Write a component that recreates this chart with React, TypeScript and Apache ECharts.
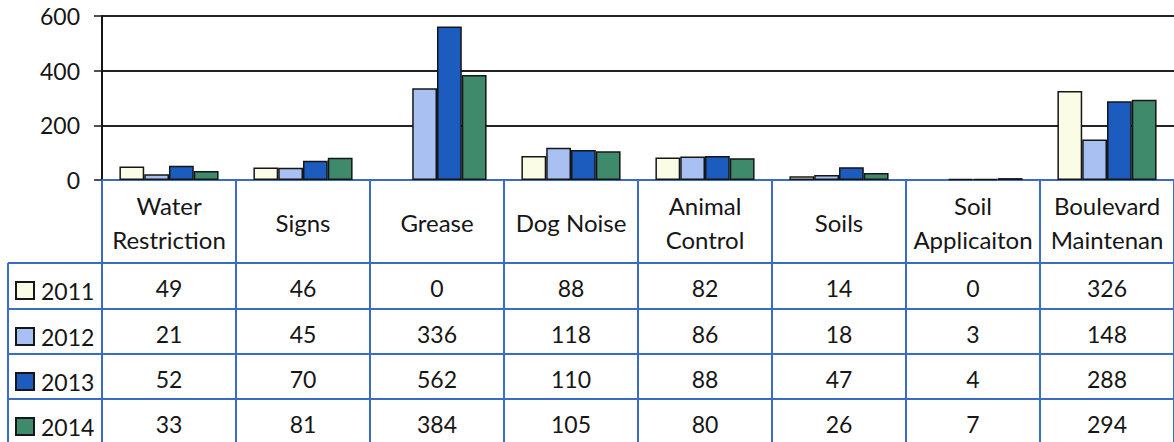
import React, { useEffect, useRef } from "react";
import * as echarts from "echarts";

const categories = [
  "Water\nRestriction",
  "Signs",
  "Grease",
  "Dog Noise",
  "Animal\nControl",
  "Soils",
  "Soil\nApplicaiton",
  "Boulevard\nMaintenan",
];
const years = ["2011", "2012", "2013", "2014"];
const values2011 = [49, 46, 0, 88, 82, 14, 0, 326];
const values2012 = [21, 45, 336, 118, 86, 18, 3, 148];
const values2013 = [52, 70, 562, 110, 88, 47, 4, 288];
const values2014 = [33, 81, 384, 105, 80, 26, 7, 294];
const yMin = 0;
const yMax = 600;
const yInterval = 200;

const seriesValues = [values2011, values2012, values2013, values2014];
const colors = ["#fbfce6", "#a9c1f2", "#1d5cbf", "#3f8a6b"];
const BLUE = "#3a6cc6";
const INK = "#161616";
const FONT = "Lato";

export default function App() {
  const ref = useRef<HTMLDivElement>(null);

  useEffect(() => {
    if (!ref.current) return;
    const chart = echarts.init(ref.current, undefined, { renderer: "svg" });

    const rowOffsets = [83, 129, 174, 219];
    const rowAxes = seriesValues.map((vals, i) => ({
      type: "category",
      gridIndex: 0,
      position: "bottom",
      offset: rowOffsets[i],
      data: vals.map(String),
      axisLine: { show: true, lineStyle: { color: BLUE, width: 2 } },
      axisTick: { show: false },
      splitLine: { show: false },
      axisLabel: {
        interval: 0,
        margin: 12,
        fontSize: 23,
        lineHeight: 26,
        color: INK,
        fontFamily: FONT,
      },
    }));

    const legendLineYs = [263, 309, 354, 399, 444];
    const legendTops = [279, 325, 370, 415];

    chart.setOption({
      animation: false,
      grid: { left: 102, top: 16, width: 1079, height: 164, containLabel: false },
      legend: years.map((y, i) => ({
        data: [y],
        orient: "vertical",
        left: 15,
        top: legendTops[i],
        padding: 0,
        itemWidth: 18,
        itemHeight: 17,
        itemGap: 6,
        icon: "rect",
        textStyle: {
          fontSize: 23,
          lineHeight: 22,
          color: INK,
          fontFamily: FONT,
          padding: [0, 0, 0, 2],
        },
        selectedMode: false,
      })),
      xAxis: [
        {
          type: "category",
          gridIndex: 0,
          position: "bottom",
          data: categories,
          axisLine: { show: true, lineStyle: { color: BLUE, width: 2 } },
          axisTick: { show: true, length: 264, lineStyle: { color: BLUE, width: 2 } },
          splitLine: { show: false },
          axisLabel: {
            interval: 0,
            margin: 42,
            verticalAlign: "middle",
            fontSize: 24,
            lineHeight: 34,
            color: INK,
            fontFamily: FONT,
          },
        },
        ...rowAxes,
      ],
      yAxis: {
        type: "value",
        min: yMin,
        max: yMax,
        interval: yInterval,
        axisLine: { show: true, lineStyle: { color: INK, width: 2 } },
        axisTick: { show: true, length: 8, lineStyle: { color: INK, width: 1.5 } },
        splitLine: { show: true, lineStyle: { color: "#222", width: 2 } },
        axisLabel: { margin: 22, fontSize: 23, color: INK, fontFamily: FONT },
      },
      series: seriesValues.map((vals, i) => ({
        type: "bar",
        name: years[i],
        data: vals.map((v) => (v === 0 ? { value: v, itemStyle: { borderWidth: 0 } } : v)),
        barGap: "0%",
        barCategoryGap: "26%",
        itemStyle: { color: colors[i], borderColor: INK, borderWidth: 1.5 },
      })),
      graphic: [
        ...legendLineYs.map((y) => ({
          type: "line",
          shape: { x1: 8, y1: y, x2: 102, y2: y },
          style: { stroke: BLUE, lineWidth: 2 },
        })),
        {
          type: "line",
          shape: { x1: 8, y1: 263, x2: 8, y2: 444 },
          style: { stroke: BLUE, lineWidth: 2 },
        },
      ],
    });

    return () => chart.dispose();
  }, []);

  return (
    <div
      ref={ref}
      style={{ position: "absolute", left: 0, top: 0, width: 1174, height: 442, background: "#fff" }}
    />
  );
}
